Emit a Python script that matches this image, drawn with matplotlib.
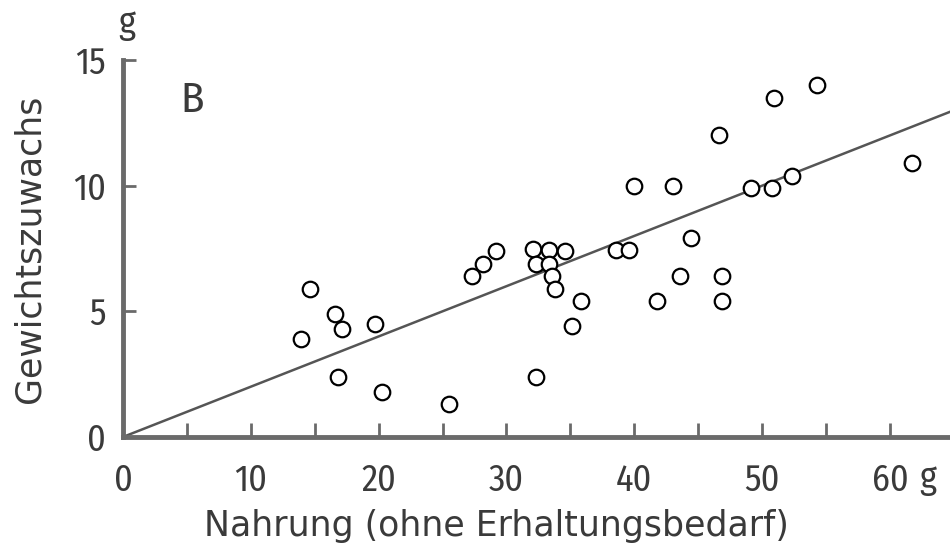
import numpy as np
import matplotlib.pyplot as plt
from matplotlib import transforms

# food intake (without maintenance requirement) and weight gain, both in g
nahrung = [13.9, 14.6, 16.6, 17.1, 16.8, 19.7, 20.3, 25.5, 27.3, 28.2,
           29.2, 32.1, 33.3, 34.6, 32.3, 33.3, 33.6, 33.8, 35.8, 35.1,
           32.3, 38.6, 39.6, 40.0, 43.0, 46.6, 50.9, 54.3, 49.1, 50.8,
           52.3, 61.7, 44.4, 43.6, 46.9, 41.8, 46.9]
zuwachs = [3.9, 5.9, 4.9, 4.3, 2.4, 4.5, 1.8, 1.3, 6.4, 6.9,
           7.4, 7.5, 7.45, 7.4, 6.9, 6.9, 6.4, 5.9, 5.4, 4.4,
           2.4, 7.45, 7.45, 10.0, 10.0, 12.0, 13.5, 14.0, 9.9, 9.9,
           10.4, 10.9, 7.9, 6.4, 6.4, 5.4, 5.4]

# regression line through the origin
steigung = 0.2
x_fit = np.array([0, 66])

x_ticklabels = ['0', '10', '20', '30', '40', '50', '60']
y_ticklabels = ['0', '5', '10', '15']

ink = '#3a3a3a'
axis_grey = '#6a6a6a'
num_font = ['Fira Sans Condensed', 'DejaVu Sans']
num_size = 26
tick_pad = 19

fig = plt.figure(figsize=(9.5, 5.51), dpi=100)
ax = fig.add_axes([0.1295, 0.207, 0.8705, 0.684])

ax.plot(x_fit, steigung * x_fit, color='#555555', lw=1.8, zorder=2)
ax.scatter(nahrung, zuwachs, s=125, facecolors='white', edgecolors='black',
           linewidths=1.6, zorder=3, clip_on=False)

ax.set_xlim(0, 64.7)
ax.set_ylim(0, 15)

for side in ['top', 'right']:
    ax.spines[side].set_visible(False)
for side in ['left', 'bottom']:
    ax.spines[side].set_color(axis_grey)
    ax.spines[side].set_linewidth(3.5)

ax.set_xticks(np.arange(0, 61, 10))
ax.set_xticklabels(x_ticklabels)
ax.set_xticks(np.arange(5, 65, 5), minor=True)
ax.set_yticks(np.arange(0, 16, 5))
ax.set_yticklabels(y_ticklabels)

ax.tick_params(axis='x', which='both', direction='in', length=10, width=2,
               color=axis_grey, pad=tick_pad, labelsize=num_size,
               labelcolor=ink)
ax.tick_params(axis='y', direction='in', length=9, width=2,
               color=axis_grey, pad=12, labelsize=num_size, labelcolor=ink)
for lab in ax.get_xticklabels() + ax.get_yticklabels():
    lab.set_family(num_font)

# unit after the last x tick label, on the same line
g_offset = transforms.ScaledTranslation(21 / 72, -(tick_pad + 0.69 * num_size) / 72,
                                        fig.dpi_scale_trans)
ax.text(60, 0, 'g', transform=ax.get_xaxis_transform() + g_offset,
        ha='left', va='baseline', fontsize=num_size, color=ink,
        family=num_font)
# unit above the y axis
ax.text(0.3, 15.75, 'g', ha='center', va='bottom', fontsize=num_size,
        color=ink, family=num_font, clip_on=False)

ax.text(4.5, 12.95, 'B', fontsize=31, color=ink, family=num_font)

ax.set_xlabel('Nahrung (ohne Erhaltungsbedarf)', fontsize=25, color=ink)
ax.xaxis.set_label_coords(0.452, -0.19)
ax.set_ylabel('Gewichtszuwachs', fontsize=25, color=ink, labelpad=19)

fig.savefig('out.png', dpi=100)
